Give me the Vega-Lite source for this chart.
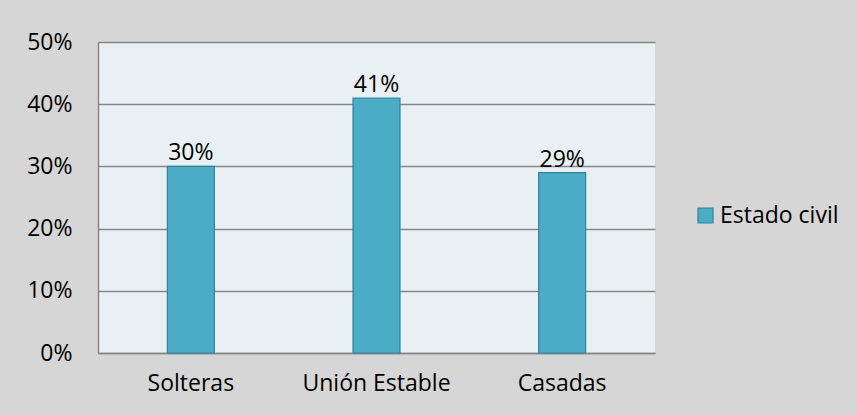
{
  "$schema": "https://vega.github.io/schema/vega-lite/v6.json",
  "width": 557,
  "height": 311,
  "autosize": {"type": "none"},
  "padding": {"left": 98, "top": 42, "right": 202, "bottom": 62},
  "background": "#d6d6d6",
  "data": {
    "values": [
      {"estado": "Solteras", "pct": 0.30, "serie": "Estado civil"},
      {"estado": "Unión Estable", "pct": 0.41, "serie": "Estado civil"},
      {"estado": "Casadas", "pct": 0.29, "serie": "Estado civil"}
    ]
  },
  "config": {
    "font": "Open Sans",
    "view": {"fill": "#e8f0f4", "stroke": null},
    "axis": {"labelFont": "Open Sans", "labelFontSize": 23, "labelColor": "#000000"}
  },
  "layer": [
    {
      "mark": {"type": "bar", "stroke": "#31849b", "strokeWidth": 1.2},
      "encoding": {
        "x": {
          "field": "estado", "type": "nominal", "sort": null,
          "scale": {"paddingInner": 0.747, "paddingOuter": 0.3735},
          "axis": {"title": null, "labelAngle": 0, "ticks": false, "domainColor": "#868686", "domainWidth": 1.5, "labelPadding": 19}
        },
        "y": {
          "field": "pct", "type": "quantitative",
          "scale": {"domain": [0, 0.5]},
          "axis": {"title": null, "format": ".0%", "values": [0, 0.1, 0.2, 0.3, 0.4, 0.5], "labelOverlap": false, "ticks": false, "domainColor": "#868686", "domainWidth": 1.5, "gridColor": "#868686", "gridWidth": 1.5, "labelPadding": 26}
        },
        "color": {
          "field": "serie", "type": "nominal",
          "scale": {"range": ["#4bacc6"]},
          "legend": {"title": null, "orient": "none", "legendX": 596, "legendY": 162, "symbolType": "square", "symbolSize": 225, "symbolStrokeColor": "#31849b", "symbolStrokeWidth": 1.2, "labelFontSize": 23, "labelFont": "Open Sans", "labelColor": "#000000", "labelOffset": 3, "padding": 0}
        }
      }
    },
    {
      "mark": {"type": "text", "baseline": "alphabetic", "dy": -6, "fontSize": 23, "font": "Open Sans", "color": "#000000"},
      "encoding": {
        "x": {"field": "estado", "type": "nominal", "sort": null},
        "y": {"field": "pct", "type": "quantitative"},
        "text": {"field": "pct", "type": "quantitative", "format": ".0%"}
      }
    }
  ]
}
